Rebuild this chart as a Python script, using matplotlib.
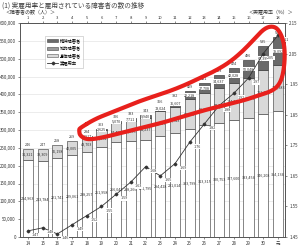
import matplotlib
matplotlib.use('Agg')
import matplotlib.pyplot as plt
import numpy as np
from matplotlib.lines import Line2D
from matplotlib.patches import Patch
from matplotlib.ticker import FuncFormatter, MultipleLocator

plt.rcParams['font.family'] = ['Noto Sans CJK JP', 'DejaVu Sans']

# ---------------- data ----------------
years = ['14', '15', '16', '17', '18', '19', '20', '21', '22', '23',
         '24', '25', '26', '27', '28', '29', '30', '元']
top_labels = [str(i) for i in range(1, 19)]
physical = [214963, 213784, 221741, 229061, 238257, 251958, 266043, 268266, 271795,
            284428, 291014, 303799, 313315, 320753, 327600, 333454, 346208, 354134]
intellectual = [31321, 33309, 36198, 40005, 43703, 48132, 54489, 56835, 61237,
                68747, 74743, 82930, 90203, 97744, 104746, 112293, 121166, 128383]
mental = [0, 0, 0, 0, 1917, 2625, 5070, 7711, 9940,
          13024, 16607, 22218, 27708, 34637, 42028, 50048, 67395, 78092]
rate = [1.47, 1.48, 1.46, 1.49, 1.52, 1.55, 1.59, 1.63, 1.68,
        1.65, 1.69, 1.76, 1.82, 1.88, 1.92, 1.97, 2.05, 2.11]

# ---------------- figure ----------------
W, H = 300, 246
fig = plt.figure(figsize=(3.0, 2.46), dpi=100)
L, R, T, B = 20, 285, 23, 237
ax = fig.add_axes([L / W, 1 - B / H, (R - L) / W, (B - T) / H])

x = np.arange(len(years))
phys = np.array(physical)
intel = np.array(intellectual)
ment = np.array(mental)
total = phys + intel + ment
w = 0.7
fs = 2.7
ec = '#555555'

ax.bar(x, phys, w, color='white', edgecolor=ec, lw=0.5, zorder=2)
ax.bar(x, intel, w, bottom=phys, color='#d9d9d9', edgecolor=ec, lw=0.5, zorder=2)
ax.bar(x, ment, w, bottom=phys + intel, color='#6a6a6a', edgecolor='#444444',
       lw=[0.5 if m > 0 else 0 for m in mental], zorder=2)

for i in range(len(x)):
    ax.text(x[i], phys[i] / 2, f'{phys[i]:,}', ha='center', va='center',
            fontsize=fs, color='#333333', zorder=4)
    ax.text(x[i], phys[i] + intel[i] / 2, f'{intel[i]:,}', ha='center', va='center',
            fontsize=fs, color='#333333', zorder=4)
    if ment[i] > 0:
        ax.text(x[i], phys[i] + intel[i] + ment[i] / 2, f'{ment[i]:,}', ha='center',
                va='center', fontsize=fs, color='#333333', zorder=4,
                bbox=dict(boxstyle='square,pad=0.08', fc='white', ec='none'))
    ax.text(x[i], total[i] + 6000, f'{round(total[i] / 1000)}', ha='center', va='bottom',
            fontsize=fs, color='#333333', zorder=4)

ax.set_xlim(-0.54, 17.48)
ax.set_ylim(0, 600000)
ax.yaxis.set_major_locator(MultipleLocator(50000))
ax.yaxis.set_major_formatter(FuncFormatter(lambda v, p: f'{int(v):,}'))
ax.set_xticks(x)
ax.set_xticklabels(years)
ax.tick_params(axis='both', labelsize=3.2, colors='#333333', length=1.5, width=0.4, pad=1.5)
ax.yaxis.grid(True, color='#e4e4e4', lw=0.5)
ax.set_axisbelow(True)
for s in ['left', 'bottom', 'top', 'right']:
    ax.spines[s].set_color('#555555')
    ax.spines[s].set_linewidth(0.6)

secx = ax.secondary_xaxis('top')
secx.set_xticks(x)
secx.set_xticklabels(top_labels)
secx.tick_params(labelsize=3.0, colors='#333333', length=1.5, width=0.4, pad=1)
secx.spines['top'].set_color('#555555')
secx.spines['top'].set_linewidth(0.6)

ax2 = ax.twinx()
ax2.plot(x, rate, color='#333333', lw=0.6, marker='D', ms=1.4, zorder=5)
for i in range(len(x)):
    ax2.text(x[i] + 0.28, rate[i] - 0.014, f'{rate[i]:.2f}', ha='left', va='center',
             fontsize=fs, color='#333333', zorder=6,
             bbox=dict(boxstyle='square,pad=0.08', fc='white', ec='none'))
ax2.set_ylim(1.45, 2.15)
ax2.set_yticks(np.round(np.arange(1.45, 2.151, 0.1), 2))
ax2.yaxis.set_major_formatter(FuncFormatter(lambda v, p: f'{v:.2f}'))
ax2.tick_params(axis='y', labelsize=3.2, colors='#333333', length=1.5, width=0.4, pad=1.5)
for s in ['left', 'bottom', 'top', 'right']:
    ax2.spines[s].set_color('#555555')
    ax2.spines[s].set_linewidth(0.6)

# legend
handles = [Patch(facecolor='#6a6a6a', edgecolor='#444444', lw=0.4),
           Patch(facecolor='#9a9a9a', edgecolor='#444444', lw=0.4),
           Patch(facecolor='#d9d9d9', edgecolor='#555555', lw=0.4),
           Line2D([0], [0], color='#333333', lw=0.6, marker='D', ms=1.4)]
labels = ['精神障害者', '知的障害者', '身体障害者', '実雇用率']
leg = ax.legend(handles, labels, loc='upper left', bbox_to_anchor=(0.085, 0.95),
                fontsize=3.1, frameon=True, fancybox=False, edgecolor='#aaaaaa',
                handlelength=2.6, handleheight=0.7, labelspacing=0.55, borderpad=0.55,
                handletextpad=0.3)
leg.get_frame().set_linewidth(0.4)
leg.set_zorder(7)

# texts
fig.text(2 / W, 1 - 6 / H, '(1) 実雇用率と雇用されている障害者の数の推移', ha='left', va='center',
         fontsize=4.8, color='#444444')
fig.text(5 / W, 1 - 13 / H, '＜障害者の数（人）＞', ha='left', va='center',
         fontsize=3.6, color='#333333')
fig.text(293 / W, 1 - 13 / H, '＜実雇用率（%）＞', ha='right', va='center',
         fontsize=3.6, color='#333333')

# red hand-drawn emphasis loop (annotation, in image pixel coordinates)
loop_px = [(80, 128), (95, 119), (110, 113), (125, 107), (140, 101), (155, 96),
           (170, 91), (185, 85), (200, 78), (215, 71), (230, 62), (244, 50),
           (256, 37), (265, 28), (273, 26), (279, 30), (284, 42), (285, 58),
           (283, 75), (279, 85), (272, 91), (260, 95), (245, 100), (225, 105),
           (205, 110), (185, 116), (165, 122), (145, 127), (125, 132), (105, 137),
           (88, 140), (80, 136), (79, 130), (80, 128)]
pts = np.array(loop_px, dtype=float)
for _ in range(3):
    q = 0.75 * pts[:-1] + 0.25 * pts[1:]
    r = 0.25 * pts[:-1] + 0.75 * pts[1:]
    pts = np.vstack([np.column_stack([q, r]).reshape(-1, 2), q[:1]])
fx = (pts[:, 0] - L) / (R - L)
fy = (B - pts[:, 1]) / (B - T)
ax2.plot(fx, fy, transform=ax2.transAxes, color='#e8201c', lw=3.0,
         solid_capstyle='round', solid_joinstyle='round', zorder=20, clip_on=False)

fig.savefig('out.png', dpi=100)
